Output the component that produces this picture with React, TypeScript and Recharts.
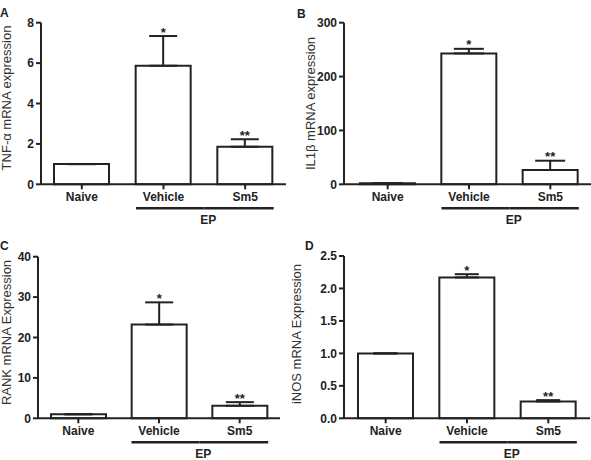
import React from "react";
import { BarChart, Bar, XAxis, YAxis, ErrorBar, LabelList } from "recharts";

const W = 591;
const H = 460;
const BAR = 55;
const INK = "#222";
const FONT = "'Liberation Sans', Arial, Helvetica, sans-serif";

const groups = ["Naive", "Vehicle", "Sm5"];
const marks = ["", "*", "**"];

// A: TNF-α
const tnfMean = [1.0, 5.87, 1.86];
const tnfSem = [0, 1.47, 0.37];
// B: IL1β
const il1Mean = [2, 243, 26.5];
const il1Sem = [0, 8.5, 17.3];
// C: RANK
const rankMean = [1.0, 23.2, 3.1];
const rankSem = [0, 5.5, 0.9];
// D: iNOS
const inosMean = [1.0, 2.17, 0.26];
const inosSem = [0, 0.05, 0.02];

const tnfTicks = [0, 2, 4, 6, 8];
const il1Ticks = [0, 100, 200, 300];
const rankTicks = [0, 10, 20, 30, 40];
const inosTicks = [0, 0.5, 1, 1.5, 2, 2.5];

type Panel = {
  letter: string;
  title: string;
  means: number[];
  sems: number[];
  ticks: number[];
  fmt?: (v: number) => string;
  left: number;
  right: number;
  top: number;
  bottom: number;
  pad: { left: number; right: number };
  cap: number;
  letterX: number;
  letterY: number;
  titleX: number;
  titleY: number;
};

const panels: Panel[] = [
  {
    letter: "A", title: "TNF-α mRNA expression", means: tnfMean, sems: tnfSem, ticks: tnfTicks,
    left: 41, right: 286, top: 22.7, bottom: 184.3, pad: { left: 0, right: 0 }, cap: 14,
    letterX: 0, letterY: 17, titleX: 11, titleY: 98,
  },
  {
    letter: "B", title: "IL1β mRNA expression", means: il1Mean, sems: il1Sem, ticks: il1Ticks,
    left: 344, right: 591, top: 22.7, bottom: 184.3, pad: { left: 3, right: 0 }, cap: 15,
    letterX: 297, letterY: 18, titleX: 315, titleY: 103.5,
  },
  {
    letter: "C", title: "RANK mRNA Expression", means: rankMean, sems: rankSem, ticks: rankTicks,
    left: 38, right: 280, top: 256.7, bottom: 418.3, pad: { left: 0, right: 0 }, cap: 14,
    letterX: 0, letterY: 250, titleX: 11, titleY: 332.5,
  },
  {
    letter: "D", title: "iNOS mRNA Expression", means: inosMean, sems: inosSem, ticks: inosTicks,
    fmt: (v) => v.toFixed(1),
    left: 344, right: 590, top: 256, bottom: 418.3, pad: { left: 1, right: 1 }, cap: 12,
    letterX: 305, letterY: 250, titleX: 301, titleY: 334,
  },
];

function GroupTick(props: any) {
  const { x, y, payload, band } = props;
  const i = props.index ?? payload.index;
  const half = band / 2;
  return (
    <g>
      <text x={x} y={y + 10} textAnchor="middle" fontFamily={FONT} fontSize={12} fontWeight="bold" fill={INK}>
        {payload.value}
      </text>
      {i === 1 && (
        <line x1={x - BAR / 2} x2={x + half} y1={y + 17} y2={y + 17} stroke={INK} strokeWidth={2.5} />
      )}
      {i === 2 && (
        <g>
          <line x1={x - half} x2={x + BAR / 2 + 1} y1={y + 17} y2={y + 17} stroke={INK} strokeWidth={2.5} />
          <text x={x - half + 4} y={y + 33} textAnchor="middle" fontFamily={FONT} fontSize={12} fontWeight="bold" fill={INK}>
            EP
          </text>
        </g>
      )}
    </g>
  );
}

function ChartPanel({ p }: { p: Panel }) {
  const rows = groups.map((g, i) => ({
    group: g,
    mean: p.means[i],
    err: [0, p.sems[i]],
    sig: marks[i],
  }));
  const yw = 30;
  const xh = 40;
  const band = (p.right - p.left - p.pad.left - p.pad.right) / groups.length;
  const last = p.ticks[p.ticks.length - 1];

  // star sits just above the top of the error bar
  const star = (lp: any) => {
    const vb = lp.viewBox ?? lp;
    const { x, y, width, height } = vb;
    const idx = lp.index;
    if (!lp.value || idx == null) return null;
    const perUnit = height / rows[idx].mean;
    const top = y - p.sems[idx] * perUnit;
    return (
      <text x={x + width / 2} y={top + 0.5} textAnchor="middle" fontFamily={FONT} fontSize={13} fontWeight="bold" fill={INK}>
        {lp.value}
      </text>
    );
  };

  return (
    <div style={{ position: "absolute", left: 0, top: 0, width: W, height: H }}>
      <BarChart
        width={W}
        height={H}
        data={rows}
        margin={{ top: p.top, left: p.left - yw, right: W - p.right, bottom: H - p.bottom - xh }}
      >
        <XAxis
          dataKey="group"
          height={xh}
          interval={0}
          padding={p.pad}
          axisLine={{ stroke: INK, strokeWidth: 2 }}
          tickLine={{ stroke: INK, strokeWidth: 2 }}
          tickSize={5}
          tickMargin={2}
          tick={<GroupTick band={band} />}
        />
        <YAxis
          width={yw}
          domain={[0, last]}
          ticks={p.ticks}
          interval={0}
          tickFormatter={p.fmt}
          axisLine={{ stroke: INK, strokeWidth: 2 }}
          tickLine={{ stroke: INK, strokeWidth: 2 }}
          tickSize={5}
          tickMargin={2}
          tick={{ fill: INK, fontFamily: FONT, fontSize: 12, fontWeight: "bold" }}
        />
        <Bar dataKey="mean" barSize={BAR} fill="#fff" stroke={INK} strokeWidth={2} isAnimationActive={false}>
          <ErrorBar dataKey="err" direction="y" width={p.cap} stroke={INK} strokeWidth={2} />
          <LabelList dataKey="sig" content={star} />
        </Bar>
      </BarChart>
    </div>
  );
}

export default function App() {
  return (
    <div style={{ position: "absolute", left: 0, top: 0, width: W, height: H, background: "#fff", overflow: "hidden" }}>
      {panels.map((p) => (
        <ChartPanel key={p.letter} p={p} />
      ))}
      <svg width={W} height={H} style={{ position: "absolute", left: 0, top: 0 }}>
        {panels.map((p) => (
          <g key={p.letter}>
            <text x={p.letterX} y={p.letterY} fontFamily={FONT} fontSize={12} fontWeight="bold" fill={INK}>
              {p.letter}
            </text>
            <text
              x={p.titleX}
              y={p.titleY}
              transform={`rotate(-90 ${p.titleX} ${p.titleY})`}
              textAnchor="middle"
              fontFamily={FONT}
              fontSize={13}
              fill="#333"
            >
              {p.title}
            </text>
          </g>
        ))}
      </svg>
    </div>
  );
}
